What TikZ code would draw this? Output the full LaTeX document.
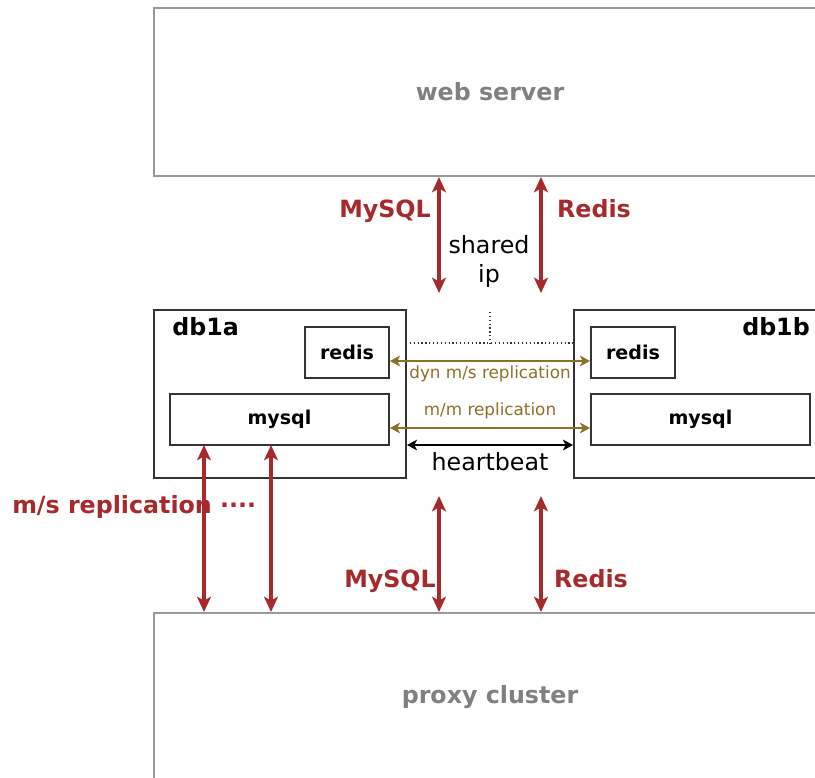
\documentclass[tikz,border=0pt]{standalone}
\usepackage{fontspec}
\setmainfont{DejaVu Sans}
\usetikzlibrary{arrows.meta,calc}
\definecolor{rred}{RGB}{166,41,44}
\definecolor{ggold}{RGB}{140,112,40}
\definecolor{bdark}{RGB}{51,51,51}
\definecolor{bgray}{RGB}{153,153,153}
\definecolor{tgray}{RGB}{128,128,128}
\newcommand{\bigfont}{\fontsize{17.8pt}{21.75pt}\selectfont}
\newcommand{\midfont}{\fontsize{14.3pt}{16pt}\selectfont}
\newcommand{\smallfont}{\fontsize{12.6pt}{14pt}\selectfont}
\tikzset{
  outerbox/.style={draw=bgray, line width=1.5pt, rectangle, inner sep=0pt, text=tgray, font=\bigfont\bfseries},
  dbbox/.style={draw=bdark, line width=1.5pt, rectangle, inner sep=0pt},
  svcbox/.style={draw=bdark, line width=1.5pt, rectangle, inner sep=0pt, font=\midfont\bfseries},
  redarrow/.style={draw=rred, line width=2.3pt, {Stealth[length=11.5pt,width=10.5pt,inset=3pt]}-{Stealth[length=11.5pt,width=10.5pt,inset=3pt]}},
  goldarrow/.style={draw=ggold, line width=1.4pt, {Stealth[length=7.5pt,width=8pt,inset=2pt]}-{Stealth[length=7.5pt,width=8pt,inset=2pt]}},
  blackarrow/.style={draw=black, line width=1.4pt, {Stealth[length=7.5pt,width=8pt,inset=2pt]}-{Stealth[length=7.5pt,width=8pt,inset=2pt]}},
  redlabel/.style={text=rred, font=\bigfont\bfseries, inner sep=0pt},
  goldlabel/.style={text=ggold, font=\smallfont, inner sep=0pt},
  blacklabel/.style={text=black, font=\bigfont, inner sep=0pt},
  dotline/.style={draw=bdark, line width=0.9pt, dotted},
}
\begin{document}
\begin{tikzpicture}[x=0.75pt, y=-0.75pt]
\clip (0,0) rectangle (815,778);
% outer boxes
\node[outerbox, minimum width=672*0.75pt, minimum height=168*0.75pt] (web) at (490,92) {web server};
\node[outerbox, minimum width=672*0.75pt, minimum height=168*0.75pt] (proxy) at (490,697) {proxy cluster};
% db boxes
\node[dbbox, minimum width=252*0.75pt, minimum height=168*0.75pt] (db1a) at (280,394) {};
\node[dbbox, minimum width=252*0.75pt, minimum height=168*0.75pt] (db1b) at (700,394) {};
\node[anchor=base west, font=\bigfont\bfseries, inner sep=0pt] (db1alabel) at (172,335) {db1a};
\node[anchor=base east, font=\bigfont\bfseries, inner sep=0pt] (db1blabel) at (810,335) {db1b};
% services
\node[svcbox, minimum width=84*0.75pt, minimum height=51*0.75pt] (redisA) at (347,352.5) {redis};
\node[svcbox, minimum width=219*0.75pt, minimum height=51*0.75pt] (mysqlA) at (279.5,419.5) {mysql};
\node[svcbox, minimum width=84*0.75pt, minimum height=51*0.75pt] (redisB) at (633,352.5) {redis};
\node[svcbox, minimum width=219*0.75pt, minimum height=51*0.75pt] (mysqlB) at (700.5,419.5) {mysql};
% shared ip dotted
\coordinate (dotL) at (406,343);
\coordinate (dotR) at (574,343);
\coordinate (dotM) at (490,343);
\coordinate (dotT) at (490,312);
\draw[dotline] (dotL) -- (dotR);
\draw[dotline] (dotT) -- (dotM);
% replication arrows
\draw[goldarrow] ($(redisA.east)+(0,8.5)$) -- ($(redisB.west)+(0,8.5)$);
\draw[goldarrow] ($(mysqlA.east)+(0,8.5)$) -- ($(mysqlB.west)+(0,8.5)$);
\draw[blackarrow] ($(db1a.east)+(0,51)$) -- ($(db1b.west)+(0,51)$);
\node[goldlabel] (dynlabel) at (490,374) {dyn m/s replication};
\node[goldlabel] (mmlabel) at (490,411) {m/m replication};
\node[blacklabel] (hblabel) at (490,462) {heartbeat};
% top arrows
\coordinate (topM) at (439,293);
\coordinate (topR) at (541,293);
\draw[redarrow] (web.south -| topM) -- (topM);
\draw[redarrow] (web.south -| topR) -- (topR);
\node[redlabel, anchor=base] (mysqlTop) at (385,217) {MySQL};
\node[redlabel, anchor=base] (redisTop) at (594,217) {Redis};
\node[blacklabel, align=center] (sharedip) at (489,261) {shared\\ip};
% bottom arrows
\coordinate (bm1) at (204,445);
\coordinate (bm2) at (271,445);
\coordinate (botM) at (439,496);
\coordinate (botR) at (541,496);
\draw[redarrow] (bm1) -- (proxy.north -| bm1);
\draw[redarrow] (bm2) -- (proxy.north -| bm2);
\draw[redarrow] (botM) -- (proxy.north -| botM);
\draw[redarrow] (botR) -- (proxy.north -| botR);
\node[redlabel, anchor=base] (mysqlBot) at (390,587) {MySQL};
\node[redlabel, anchor=base] (redisBot) at (591,587) {Redis};
\node[redlabel, anchor=base west] (mslabel) at (12,513) {m/s replication ····};
\end{tikzpicture}
\end{document}
